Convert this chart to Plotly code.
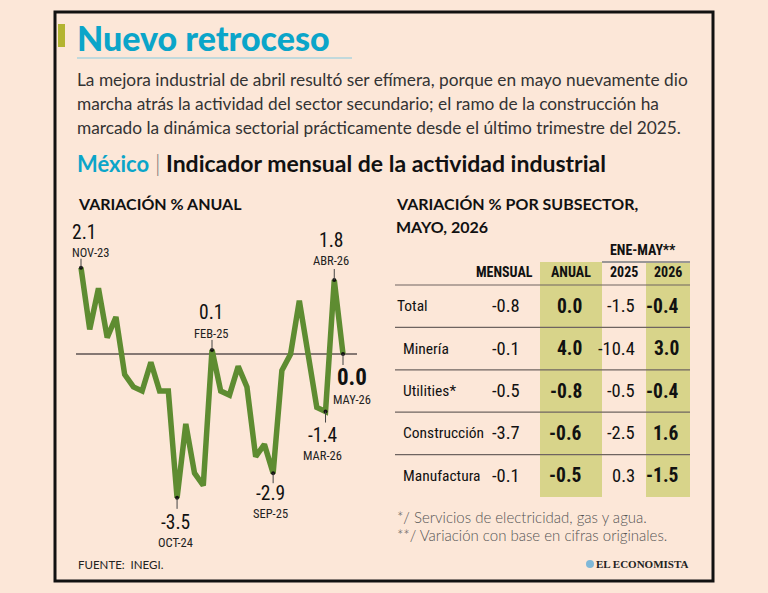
import plotly.graph_objects as go

# ---------------- DATA ----------------
months = ["NOV-23", "DIC-23", "ENE-24", "FEB-24", "MAR-24", "ABR-24", "MAY-24", "JUN-24",
          "JUL-24", "AGO-24", "SEP-24", "OCT-24", "NOV-24", "DIC-24", "ENE-25", "FEB-25",
          "MAR-25", "ABR-25", "MAY-25", "JUN-25", "JUL-25", "AGO-25", "SEP-25", "OCT-25",
          "NOV-25", "DIC-25", "ENE-26", "FEB-26", "MAR-26", "ABR-26", "MAY-26"]
anual_var = [2.1, 0.6, 1.6, 0.4, 0.9, -0.5, -0.8, -0.9, -0.2, -0.9, -0.9, -3.5, -1.7, -2.9,
             -3.2, 0.1, -0.9, -1.0, -0.3, -0.8, -2.5, -2.2, -2.9, -0.4, 0.0, 1.3, 0.0, -1.3,
             -1.4, 1.8, 0.0]

subsectors = ["Total", "Minería", "Utilities*", "Construcción", "Manufactura"]
mensual = [-0.8, -0.1, -0.5, -3.7, -0.1]
anual = [0.0, 4.0, -0.8, -0.6, -0.5]
ene_may_2025 = [-1.5, -10.4, -0.5, -2.5, 0.3]
ene_may_2026 = [-0.4, 3.0, -0.4, 1.6, -1.5]
table_headers = ["MENSUAL", "ANUAL", "2025", "2026"]

# ---------------- STYLE ----------------
W, H = 768, 593
BG = "#FCE7D8"
GREEN = "#5E8C31"
CYAN = "#0BA5C9"
HILITE = "#D8D48A"
COND = "Liberation Sans Narrow, Roboto Condensed, DejaVu Sans Condensed, Arial Narrow, sans-serif"
BODY = "Lato, Open Sans, sans-serif"


def px(x):
    return x / W


def py(y):
    return 1 - y / H


fig = go.Figure()

# ---------------- LINE CHART ----------------
fig.add_trace(go.Scatter(x=months, y=anual_var, mode="lines",
                         line=dict(color=GREEN, width=5.5), hoverinfo="skip",
                         xaxis="x", yaxis="y"))

# labelled points: offsets (pixels) for value text, date text and tick
label_cfg = {
    "NOV-23": dict(anchor="left", dx=-11, dv=-35, dd=-15, t0=-9, t1=0, bold=False),
    "FEB-25": dict(anchor="center", dx=-1, dv=-37, dd=-16, t0=-10, t1=0, bold=False),
    "ABR-26": dict(anchor="center", dx=-3, dv=-40, dd=-20, t0=-11, t1=0, bold=False),
    "OCT-24": dict(anchor="center", dx=-2, dv=25, dd=45, t0=0, t1=11, bold=False),
    "SEP-25": dict(anchor="center", dx=-3, dv=20, dd=40, t0=0, t1=10, bold=False),
    "MAR-26": dict(anchor="center", dx=-3, dv=24, dd=44, t0=0, t1=11, bold=False),
    "MAY-26": dict(anchor="center", dx=9, dv=23, dd=45, t0=0, t1=11, bold=True),
}
lab_x = [m for m in months if m in label_cfg]
lab_y = [anual_var[months.index(m)] for m in lab_x]
fig.add_trace(go.Scatter(x=lab_x, y=lab_y, mode="markers",
                         marker=dict(color="#111", size=4), hoverinfo="skip",
                         xaxis="x", yaxis="y"))

annotations = []
shapes = []
for m, cfg in label_cfg.items():
    v = anual_var[months.index(m)]
    vf = dict(family=COND, size=23 if cfg["bold"] else 19.5, color="#111",
              weight="bold" if cfg["bold"] else "normal")
    annotations.append(dict(x=m, y=v, xref="x", yref="y", text=f"{v:.1f}",
                            showarrow=False, xanchor=cfg["anchor"], yanchor="middle",
                            xshift=cfg["dx"], yshift=-cfg["dv"], font=vf))
    annotations.append(dict(x=m, y=v, xref="x", yref="y", text=m,
                            showarrow=False, xanchor=cfg["anchor"], yanchor="middle",
                            xshift=cfg["dx"], yshift=-cfg["dd"],
                            font=dict(family=COND, size=12.5, color="#222")))
    shapes.append(dict(type="line", xref="x", yref="y", xsizemode="pixel",
                       ysizemode="pixel", xanchor=m, yanchor=v, x0=0, x1=0,
                       y0=-cfg["t0"], y1=-cfg["t1"], line=dict(color="#444", width=1)))

# ---------------- TABLE ----------------
fig.add_trace(go.Scatter(x=[0] * len(subsectors), y=subsectors, mode="markers",
                         marker=dict(opacity=0), hoverinfo="skip", xaxis="x2", yaxis="y2"))

# column anchor positions in table units (pixels from table left)
col_right = [127, 189, 242, 286]
hdr_pos = [(140, "right"), (176, "center"), (229, "center"), (273, "center")]
hl_cols = [(145, 207), (251, 295)]
HDR_Y = -0.81
TOP_Y = -1.04

for x0, x1 in hl_cols:
    shapes.append(dict(type="rect", xref="x2", yref="y2", x0=x0, x1=x1, y0=TOP_Y, y1=4.5,
                       fillcolor=HILITE, line=dict(width=0), layer="below"))
for i in range(len(subsectors)):
    shapes.append(dict(type="line", xref="x2", yref="y2", x0=0, x1=295,
                       y0=i - 0.5, y1=i - 0.5, line=dict(color="#6E6460", width=1.2)))
shapes.append(dict(type="line", xref="x2", yref="y2", x0=207, x1=295, y0=TOP_Y, y1=TOP_Y,
                   line=dict(color="#9A9696", width=2)))

for (hx, ha), h in zip(hdr_pos, table_headers):
    annotations.append(dict(x=hx, y=HDR_Y, xref="x2", yref="y2", text=h, showarrow=False,
                            xanchor=ha, yanchor="middle",
                            font=dict(family=COND, size=14, color="#111", weight="bold")))
annotations.append(dict(x=248, y=-1.33, xref="x2", yref="y2", text="ENE-MAY**",
                        showarrow=False, xanchor="center", yanchor="middle",
                        font=dict(family=COND, size=14, color="#111", weight="bold")))

cols = [mensual, anual, ene_may_2025, ene_may_2026]
bold_cols = [False, True, False, True]
for i, name in enumerate(subsectors):
    annotations.append(dict(x=0 if i == 0 else 6, y=name, xref="x2", yref="y2", text=name,
                            showarrow=False, xanchor="left", yanchor="middle",
                            font=dict(family=COND, size=15.5, color="#111")))
    for c, (vals, b) in enumerate(zip(cols, bold_cols)):
        annotations.append(dict(x=col_right[c], y=name, xref="x2", yref="y2",
                                text=f"{vals[i]:.1f}", showarrow=False,
                                xanchor="right", yanchor="middle",
                                font=dict(family=COND, size=19.5 if b else 18.5, color="#111",
                                          weight="bold" if b else "normal")))


# ---------------- TEXT BLOCKS ----------------
def ptext(x, y, text, size, color="#111", family=BODY, weight="normal", anchor="left"):
    annotations.append(dict(x=px(x), y=py(y), xref="paper", yref="paper", text=text,
                            showarrow=False, xanchor=anchor, yanchor="middle",
                            font=dict(family=family, size=size, color=color, weight=weight)))


ptext(75, 38, "Nuevo retroceso", 34, CYAN, weight=900)
body = ["La mejora industrial de abril resultó ser efímera, porque en mayo nuevamente dio",
        "marcha atrás la actividad del sector secundario; el ramo de la construcción ha",
        "marcado la dinámica sectorial prácticamente desde el último trimestre del 2025."]
for k, line in enumerate(body):
    ptext(75, 80 + 23.5 * k, line, 17.3, "#333", weight=400)
ptext(75, 163, "México", 22, CYAN, weight="bold")
ptext(153, 163, "|", 23, "#777", weight=300)
ptext(164, 163, "Indicador mensual de la actividad industrial", 23, "#111", weight="bold")
ptext(76, 203, "VARIACIÓN % ANUAL", 16, "#111", weight="bold")
ptext(394, 203, "VARIACIÓN % POR SUBSECTOR,", 16, "#111", weight="bold")
ptext(394, 227, "MAYO, 2026", 16, "#111", weight="bold")
ptext(395, 517, "*/ Servicios de electricidad, gas y agua.", 15, "#555", weight=300)
ptext(395, 535, "**/ Variación con base en cifras originales.", 15, "#555", weight=300)
ptext(76, 564, "FUENTE:\u00a0 INEGI.", 11.5, "#222")
ptext(690, 564, "EL ECONOMISTA", 11, "#222", family="Liberation Serif, serif",
      weight="bold", anchor="right")

# decorations
shapes += [
    dict(type="rect", xref="paper", yref="paper", x0=px(55), x1=px(713), y0=py(581), y1=py(12),
         line=dict(color="#111", width=3), fillcolor="rgba(0,0,0,0)"),
    dict(type="rect", xref="paper", yref="paper", x0=px(58), x1=px(65), y0=py(47), y1=py(24),
         line=dict(width=0), fillcolor="#B3B431"),
    dict(type="line", xref="paper", yref="paper", x0=px(77), x1=px(352), y0=py(58), y1=py(58),
         line=dict(color="#86CBE0", width=1)),
    dict(type="circle", xref="paper", yref="paper", x0=px(586), x1=px(594), y0=py(568),
         y1=py(560), line=dict(width=0), fillcolor="#7FB8D8"),
]

# ---------------- LAYOUT ----------------
zero_px, unit_px = 354, 41.1
y_top_px, y_bot_px = 225, 550
spacing = (343 - 81) / (len(months) - 1)
fig.update_layout(
    width=W, height=H, margin=dict(l=0, r=0, t=0, b=0),
    paper_bgcolor=BG, plot_bgcolor="rgba(0,0,0,0)", showlegend=False,
    xaxis=dict(domain=[px(76), px(357)], type="category", categoryarray=months,
               range=[-(81 - 76) / spacing, len(months) - 1 + (357 - 343) / spacing],
               visible=False, fixedrange=True),
    yaxis=dict(domain=[py(y_bot_px), py(y_top_px)],
               range=[-(y_bot_px - zero_px) / unit_px, (zero_px - y_top_px) / unit_px],
               showgrid=False, showticklabels=False, ticks="", showline=False,
               zeroline=True, zerolinecolor="#857873", zerolinewidth=1.5),
    xaxis2=dict(domain=[px(395), px(700)], range=[0, 305], visible=False, anchor="y2"),
    yaxis2=dict(domain=[py(497), py(240)], type="category", categoryarray=subsectors,
                range=[4.5, -0.5 - (285 - 240) / 42.4], visible=False, anchor="x2"),
    annotations=annotations, shapes=shapes,
)

fig.write_html("out.html")
